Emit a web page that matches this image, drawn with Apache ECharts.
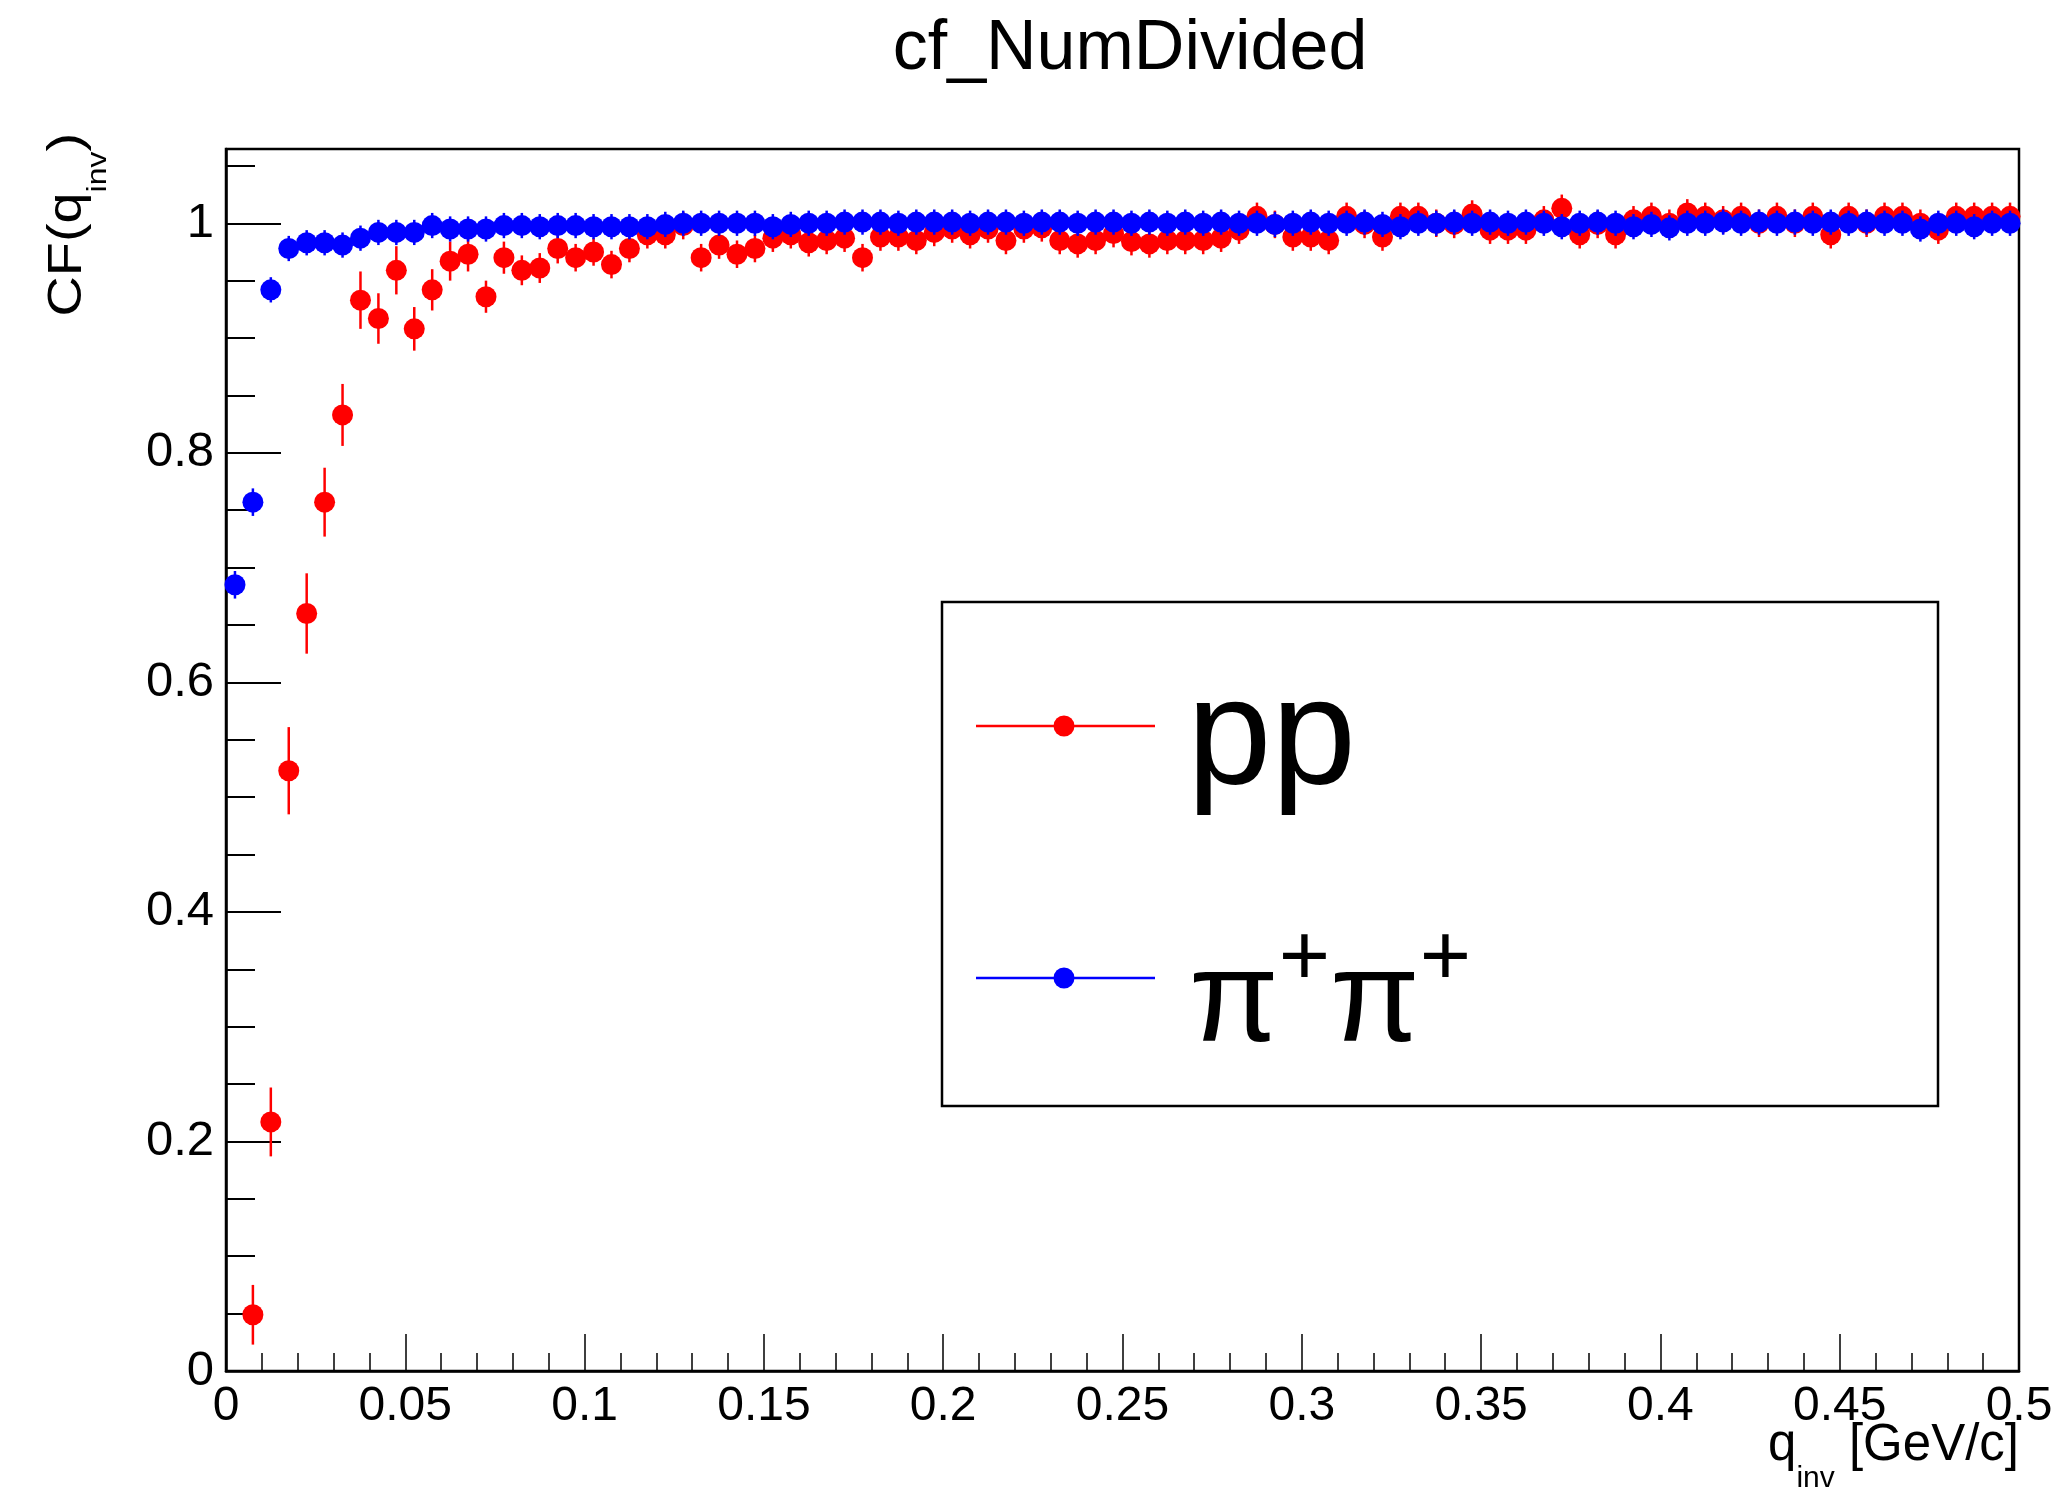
<!DOCTYPE html>
<html>
<head>
<meta charset="utf-8">
<script src="https://cdn.jsdelivr.net/npm/echarts@6/dist/echarts.min.js"></script>
<style>
  html, body { margin: 0; padding: 0; background: #ffffff; }
  #chart { width: 2065px; height: 1490px; }
</style>
</head>
<body>
<div id="chart"></div>
<script>
// q_inv bin centres (GeV/c), 100 bins of width 0.005
const qBins = [
  0.0025,0.0075,0.0125,0.0175,0.0225,0.0275,0.0325,0.0375,0.0425,0.0475,
  0.0525,0.0575,0.0625,0.0675,0.0725,0.0775,0.0825,0.0875,0.0925,0.0975,
  0.1025,0.1075,0.1125,0.1175,0.1225,0.1275,0.1325,0.1375,0.1425,0.1475,
  0.1525,0.1575,0.1625,0.1675,0.1725,0.1775,0.1825,0.1875,0.1925,0.1975,
  0.2025,0.2075,0.2125,0.2175,0.2225,0.2275,0.2325,0.2375,0.2425,0.2475,
  0.2525,0.2575,0.2625,0.2675,0.2725,0.2775,0.2825,0.2875,0.2925,0.2975,
  0.3025,0.3075,0.3125,0.3175,0.3225,0.3275,0.3325,0.3375,0.3425,0.3475,
  0.3525,0.3575,0.3625,0.3675,0.3725,0.3775,0.3825,0.3875,0.3925,0.3975,
  0.4025,0.4075,0.4125,0.4175,0.4225,0.4275,0.4325,0.4375,0.4425,0.4475,
  0.4525,0.4575,0.4625,0.4675,0.4725,0.4775,0.4825,0.4875,0.4925,0.4975
];

// proton-proton correlation function
const cfPP = [
  null, 0.049,0.217,0.523,0.660,0.757,0.833,0.933,0.917,0.959,
  0.908,0.942,0.967,0.973,0.936,0.970,0.959,0.961,0.978,0.970,
  0.975,0.964,0.978,0.990,0.990,0.998,0.970,0.981,0.973,0.978,
  0.987,0.990,0.983,0.985,0.987,0.970,0.988,0.988,0.985,0.992,
  0.995,0.990,0.995,0.985,0.995,0.996,0.985,0.982,0.985,0.991,
  0.984,0.982,0.985,0.985,0.985,0.987,0.994,1.006,0.999,0.988,
  0.988,0.985,1.006,0.999,0.988,1.006,1.006,1.000,0.999,1.008,
  0.994,0.994,0.994,1.003,1.013,0.990,0.999,0.990,1.003,1.006,
  1.000,1.009,1.006,1.003,1.006,1.000,1.006,1.000,1.006,0.990,
  1.006,1.000,1.006,1.006,1.000,0.994,1.006,1.006,1.006,1.006
];
const errPP = [
  0.000,0.026,0.030,0.038,0.035,0.030,0.027,0.025,0.022,0.021,
  0.019,0.018,0.017,0.015,0.014,0.014,0.013,0.013,0.013,0.012,
  0.012,0.012,0.012,0.012,0.012,0.012,0.012,0.012,0.012,0.012,
  0.012,0.012,0.012,0.012,0.012,0.012,0.012,0.012,0.012,0.012,
  0.012,0.012,0.012,0.012,0.012,0.012,0.012,0.012,0.012,0.012,
  0.012,0.012,0.012,0.012,0.012,0.012,0.012,0.012,0.012,0.012,
  0.012,0.012,0.012,0.012,0.012,0.012,0.012,0.012,0.012,0.012,
  0.012,0.012,0.012,0.012,0.012,0.012,0.012,0.012,0.012,0.012,
  0.012,0.012,0.012,0.012,0.012,0.012,0.012,0.012,0.012,0.012,
  0.012,0.012,0.012,0.012,0.012,0.012,0.012,0.012,0.012,0.012
];

// pi+ pi+ correlation function
const cfPiPi = [
  0.685,0.757,0.942,0.978,0.983,0.983,0.981,0.987,0.992,0.992,
  0.992,0.998,0.995,0.995,0.995,0.998,0.998,0.997,0.998,0.998,
  0.997,0.997,0.997,0.997,0.999,1.000,1.000,1.000,1.000,1.000,
  0.997,0.999,1.000,1.000,1.001,1.001,1.001,1.000,1.001,1.001,
  1.001,1.000,1.001,1.001,1.000,1.001,1.001,1.000,1.001,1.001,
  1.000,1.001,1.000,1.001,1.000,1.001,1.000,1.000,0.999,1.000,
  1.001,1.000,1.000,1.001,0.999,0.997,1.000,1.000,1.001,1.000,
  1.001,1.000,1.001,1.000,0.997,1.000,1.001,1.000,0.997,0.999,
  0.996,1.000,1.000,1.001,1.000,1.001,1.000,1.001,1.000,1.001,
  1.000,1.001,1.000,1.000,0.995,1.000,1.000,0.997,1.000,1.000
];
const errPiPi = [
  0.012,0.012,0.011,0.011,0.011,0.011,0.011,0.011,0.011,0.011,
  0.011,0.011,0.011,0.011,0.011,0.011,0.011,0.011,0.011,0.011,
  0.011,0.011,0.011,0.011,0.011,0.011,0.011,0.011,0.011,0.011,
  0.011,0.011,0.011,0.011,0.011,0.011,0.011,0.011,0.011,0.011,
  0.011,0.011,0.011,0.011,0.011,0.011,0.011,0.011,0.011,0.011,
  0.011,0.011,0.011,0.011,0.011,0.011,0.011,0.011,0.011,0.011,
  0.011,0.011,0.011,0.011,0.011,0.011,0.011,0.011,0.011,0.011,
  0.011,0.011,0.011,0.011,0.011,0.011,0.011,0.011,0.011,0.011,
  0.011,0.011,0.011,0.011,0.011,0.011,0.011,0.011,0.011,0.011,
  0.011,0.011,0.011,0.011,0.011,0.011,0.011,0.011,0.011,0.011
];

// axis ticks
const yMajorTicks = [0, 0.2, 0.4, 0.6, 0.8, 1.0];
const yMinorTicks = [0.05,0.1,0.15,0.25,0.3,0.35,0.45,0.5,0.55,0.65,0.7,0.75,0.85,0.9,0.95,1.05];

const FONT = '"Liberation Sans", Arial, Helvetica, sans-serif';
const RED = '#ff0000';
const BLUE = '#0000ff';
const Y_MAX = 1.0647;

const measureCtx = document.createElement('canvas').getContext('2d');
function textWidth(text, size) {
  measureCtx.font = size + 'px ' + FONT;
  return measureCtx.measureText(text).width;
}

function points(ys) {
  const out = [];
  qBins.forEach((x, i) => { if (ys[i] != null) out.push([x, ys[i]]); });
  return out;
}
function bars(ys, errs) {
  const out = [];
  qBins.forEach((x, i) => {
    if (ys[i] != null && errs[i] > 0) out.push([x, ys[i] - errs[i], ys[i] + errs[i]]);
  });
  return out;
}

function errorSeries(ys, errs, color, z) {
  return {
    type: 'custom',
    z: z,
    silent: true,
    animation: false,
    clip: true,
    data: bars(ys, errs),
    encode: { x: 0, y: [1, 2] },
    renderItem: function (params, api) {
      const x = api.value(0);
      const lo = api.coord([x, api.value(1)]);
      const hi = api.coord([x, api.value(2)]);
      return {
        type: 'line',
        shape: { x1: lo[0], y1: lo[1], x2: hi[0], y2: hi[1] },
        style: { stroke: color, lineWidth: 2.5 }
      };
    }
  };
}

function markerSeries(name, ys, color, z) {
  return {
    name: name,
    type: 'scatter',
    z: z,
    silent: true,
    animation: false,
    symbol: 'circle',
    symbolSize: 21,
    itemStyle: { color: color, opacity: 1 },
    data: points(ys)
  };
}

// text helper: y is the baseline
function label(text, x, baseline, size, align, extra) {
  return Object.assign({
    type: 'text',
    x: x,
    y: baseline - 0.27 * size,
    silent: true,
    style: {
      text: text,
      font: size + 'px ' + FONT,
      fill: '#000000',
      align: align, textAlign: align,
      verticalAlign: 'middle', textVerticalAlign: 'middle'
    }
  }, extra || {});
}

const chart = echarts.init(document.getElementById('chart'), null, { renderer: 'canvas' });

// axis titles built from pieces so the subscript sits below the baseline
const AX_FS = 51, SUB_FS = 30, SUB_DY = 27;
const xTitleRight = 2019, xTitleBase = 1460;
const wUnit = textWidth(' [GeV/c]', AX_FS);
const wInv = textWidth('inv', SUB_FS);
const xTitle = [
  label(' [GeV/c]', xTitleRight, xTitleBase, AX_FS, 'right'),
  label('inv', xTitleRight - wUnit, xTitleBase + SUB_DY, SUB_FS, 'right'),
  label('q', xTitleRight - wUnit - wInv, xTitleBase, AX_FS, 'right')
];

const Y_FS = 49, Y_SUB_FS = 28, Y_STRETCH = 1.14;
const wCFq = textWidth('CF(q', Y_FS);
const wInvY = textWidth('inv', Y_SUB_FS);
const wClose = textWidth(')', Y_FS);
const yTitleLen = (wCFq + wInvY + wClose) * Y_STRETCH;
const yTitle = {
  type: 'group',
  x: 81,
  y: 133 + yTitleLen,
  rotation: Math.PI / 2,
  scaleX: Y_STRETCH,
  children: [
    label('CF(q', 0, 0, Y_FS, 'left'),
    label('inv', wCFq, 25, Y_SUB_FS, 'left'),
    label(')', wCFq + wInvY, 0, Y_FS, 'left')
  ]
};

// legend box
const PP_FS = 152, PI_FS = 130, SUP_FS = 88;
const wPi = textWidth('\u03c0', PI_FS);
const wPlus = textWidth('+', SUP_FS);
const legX = 1189;
const legend = [
  { type: 'rect', shape: { x: 942, y: 602, width: 996, height: 504 },
    style: { fill: '#ffffff', stroke: '#000000', lineWidth: 2.5 }, z: 100 },
  { type: 'line', shape: { x1: 976, y1: 726, x2: 1155, y2: 726 },
    style: { stroke: RED, lineWidth: 2.5 }, z: 101 },
  { type: 'circle', shape: { cx: 1064, cy: 726, r: 10.5 }, style: { fill: RED }, z: 102 },
  Object.assign(label('pp', legX - 2, 782, PP_FS, 'left'), { z: 101 }),
  { type: 'line', shape: { x1: 976, y1: 978, x2: 1155, y2: 978 },
    style: { stroke: BLUE, lineWidth: 2.5 }, z: 101 },
  { type: 'circle', shape: { cx: 1064, cy: 978, r: 10.5 }, style: { fill: BLUE }, z: 102 },
  Object.assign(label('\u03c0', legX, 1040, PI_FS, 'left'), { z: 101 }),
  Object.assign(label('+', legX + wPi, 984, SUP_FS, 'left'), { z: 101 }),
  Object.assign(label('\u03c0', legX + wPi + wPlus, 1040, PI_FS, 'left'), { z: 101 }),
  Object.assign(label('+', legX + 2 * wPi + wPlus, 984, SUP_FS, 'left'), { z: 101 })
];

const axisLineStyle = { color: '#000000', width: 2.5 };
const tickStyle = { color: '#000000', width: 2 };

chart.setOption({
  backgroundColor: '#ffffff',
  animation: false,
  title: {
    text: 'cf_NumDivided',
    left: 1125,
    textAlign: 'center',
    top: 10,
    textStyle: { fontFamily: FONT, fontSize: 70, fontWeight: 'normal', color: '#000000' }
  },
  grid: {
    left: 226, right: 46, top: 149, bottom: 119,
    show: true, borderColor: '#000000', borderWidth: 2.5, backgroundColor: 'transparent'
  },
  xAxis: {
    type: 'value',
    min: 0, max: 0.5, interval: 0.05,
    axisLine: { show: true, lineStyle: axisLineStyle },
    axisTick: { show: true, inside: true, length: 37, lineStyle: { color: '#000000', width: 1.5 } },
    minorTick: { show: true, splitNumber: 5, length: 18, lineStyle: { color: '#000000', width: 1.5 } },
    axisLabel: {
      fontFamily: FONT, fontSize: 48, color: '#000000', margin: 12,
      formatter: function (v) { return String(+v.toFixed(3)); }
    },
    splitLine: { show: false }
  },
  yAxis: [
    {
      type: 'value', min: 0, max: Y_MAX, position: 'left',
      axisLine: { show: true, lineStyle: axisLineStyle },
      axisTick: { show: true, inside: true, length: 55, customValues: yMajorTicks, lineStyle: tickStyle },
      axisLabel: {
        customValues: yMajorTicks,
        fontFamily: FONT, fontSize: 49, color: '#000000', margin: 12,
        formatter: function (v) { return String(+(+v).toFixed(2)); }
      },
      splitLine: { show: false }
    },
    {
      type: 'value', min: 0, max: Y_MAX, position: 'left',
      axisLine: { show: false },
      axisTick: { show: true, inside: true, length: 29, customValues: yMinorTicks, lineStyle: tickStyle },
      axisLabel: { show: false },
      splitLine: { show: false }
    }
  ],
  series: [
    errorSeries(cfPP, errPP, RED, 2),
    markerSeries('pp', cfPP, RED, 3),
    errorSeries(cfPiPi, errPiPi, BLUE, 4),
    markerSeries('\u03c0+\u03c0+', cfPiPi, BLUE, 5)
  ],
  graphic: { elements: [].concat(xTitle, [yTitle], legend) }
});
</script>
</body>
</html>
